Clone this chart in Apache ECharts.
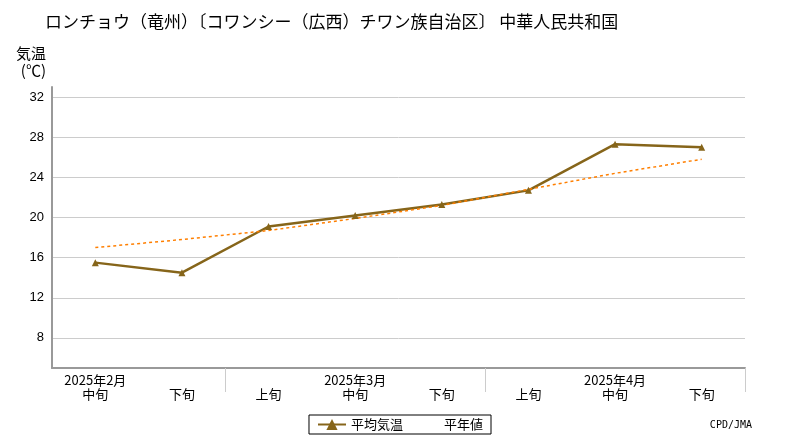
<!DOCTYPE html><html><head><meta charset="utf-8"><script src="https://cdn.jsdelivr.net/npm/echarts@6/dist/echarts.min.js"></script></head><body style="margin:0"><div id="c" style="width:800px;height:440px"></div><script>
const decades=['中旬','下旬','上旬','中旬','下旬','上旬','中旬','下旬'];
const months=['2025年2月','','','2025年3月','','','2025年4月',''];
const avgTemp=[15.5,14.5,19.1,20.2,21.3,22.7,27.3,27.0];
const normalTemp=[17.0,17.8,18.7,19.9,21.2,22.8,24.4,25.8];
const yTicks=[8,12,16,20,24,28,32];
const ch=echarts.init(document.getElementById('c'));
const F='"Noto Sans CJK JP"';
ch.setOption({
animation:false,
title:{text:'ロンチョウ（竜州）〔コワンシー（広西）チワン族自治区〕 中華人民共和国',left:40,top:8,textStyle:{fontFamily:F,fontSize:17,fontWeight:'normal',color:'#000'}},
graphic:[{type:'text',right:48,bottom:10,style:{text:'CPD/JMA',fontSize:10,fontFamily:'DejaVu Sans Mono',fill:'#000'}}],
legend:{bottom:6,left:'center',itemWidth:28,borderColor:'#000',borderWidth:1,borderRadius:0,padding:[3,8],textStyle:{fontFamily:F,fontSize:13,color:'#000'},
 data:['平均気温',{name:'平年値',icon:'path://M0,0L1,0L1,0.01L0,0.01Z',itemStyle:{opacity:0}}]},
grid:{left:52,right:55,top:87,bottom:72},
xAxis:[{type:'category',data:decades,axisLine:{lineStyle:{color:'#999',width:2}},axisTick:{show:true,length:24,lineStyle:{color:'#ccc'},interval:(i)=>i===2||i===5},axisLabel:{interval:0,margin:20,color:'#000',fontFamily:F,fontSize:13}},
{type:'category',data:months,position:'bottom',axisLine:{show:false},axisTick:{show:false},axisLabel:{interval:0,margin:6,color:'#000',fontFamily:F,fontSize:13}}],
yAxis:{type:'value',min:5,max:33,interval:1,name:'気温\n(℃)',nameLocation:'end',nameGap:8,nameTextStyle:{align:'right',padding:[0,6,0,0],fontFamily:F,fontSize:15,color:'#000',lineHeight:17},
axisLine:{show:true,lineStyle:{color:'#999',width:2}},axisTick:{show:false},
axisLabel:{color:'#000',fontSize:13,formatter:v=>yTicks.includes(v)?String(v):''},
splitLine:{show:true,lineStyle:{color:['rgba(0,0,0,0)','rgba(0,0,0,0)','rgba(0,0,0,0)','#ccc']}}},
series:[{name:'平均気温',type:'line',data:avgTemp,symbol:'triangle',symbolSize:7,color:'#86651a',lineStyle:{width:2.5,color:'#86651a'},itemStyle:{color:'#86651a'},z:3},
{name:'平年値',type:'line',data:normalTemp,symbol:'none',color:'#ff7f00',lineStyle:{width:1.5,type:[3,3],color:'#ff7f00'}}]
});
</script></body></html>
